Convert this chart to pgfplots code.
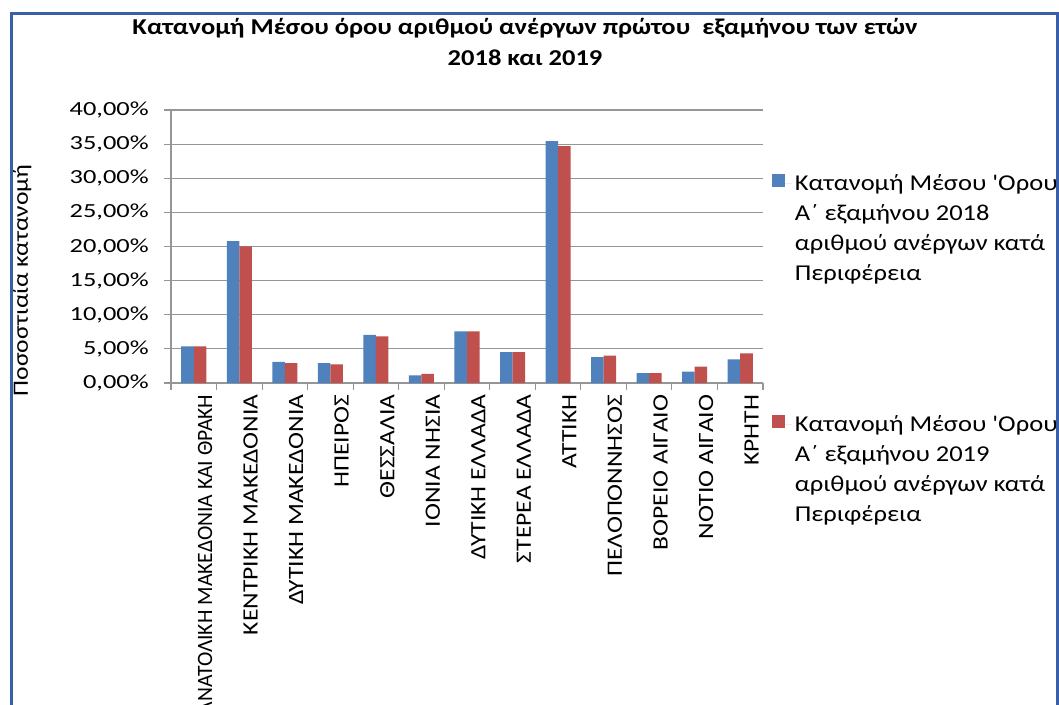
\documentclass[border=0pt]{standalone}
\usepackage{fontspec}
\usepackage{graphicx}
\setmainfont{Carlito}[FakeStretch=1.17]
\newfontfamily\tickfont{Carlito}[FakeStretch=1.32]
\newfontfamily\legfont{Carlito}[FakeStretch=1.17]
\usepackage{pgfplots}
\pgfplotsset{compat=1.18}
\definecolor{frameblue}{RGB}{58,95,170}
\definecolor{bblue}{RGB}{79,129,189}
\definecolor{bred}{RGB}{192,80,77}
\definecolor{gridgray}{RGB}{150,150,150}
\begin{document}
\begin{tikzpicture}
\path[use as bounding box, clip] (0,0) rectangle (794.25pt,528pt);
\fill[white] (0,0) rectangle (794.25pt,528pt);
\begin{axis}[
  at={(128.25pt,240.75pt)}, anchor=south west,
  scale only axis, width=444pt, height=204.75pt,
  xmin=-0.5, xmax=12.5, ymin=0, ymax=40,
  axis x line=bottom, axis y line=left,
  axis line style={gridgray, -, line width=0.8pt},
  ybar=0pt, bar width=9.4pt,
  xtick={0,...,12},
  xticklabels={\scalebox{0.845}[1]{ΑΝΑΤΟΛΙΚΗ ΜΑΚΕΔΟΝΙΑ ΚΑΙ ΘΡΑΚΗ}, ΚΕΝΤΡΙΚΗ ΜΑΚΕΔΟΝΙΑ, ΔΥΤΙΚΗ ΜΑΚΕΔΟΝΙΑ, ΗΠΕΙΡΟΣ, ΘΕΣΣΑΛΙΑ, ΙΟΝΙΑ ΝΗΣΙΑ, ΔΥΤΙΚΗ ΕΛΛΑΔΑ, ΣΤΕΡΕΑ ΕΛΛΑΔΑ, ΑΤΤΙΚΗ, ΠΕΛΟΠΟΝΝΗΣΟΣ, ΒΟΡΕΙΟ ΑΙΓΑΙΟ, ΝΟΤΙΟ ΑΙΓΑΙΟ, ΚΡΗΤΗ},
  minor xtick={-0.5,0.5,...,12.5},
  major x tick style={draw=none},
  tick align=outside, major tick length=5.25pt, minor tick length=5.25pt,
  tick style={gridgray, line width=0.8pt},
  ytick={0,5,...,40},
  ymajorgrids, grid style={gridgray, line width=0.8pt},
  /pgf/number format/assume math mode=true,
  yticklabel={\pgfmathprintnumber[fixed,fixed zerofill,precision=2,use comma]{\tick}\%},
  yticklabel style={font=\tickfont\fontsize{15}{15}\selectfont, xshift=-8pt},
  xticklabel style={rotate=90, anchor=east, font=\fontsize{16.4}{16.4}\selectfont, yshift=-8.5pt},
  title={Κατανομή Μέσου όρου αριθμού ανέργων πρώτου \ εξαμήνου των ετών\\2018 και 2019},
  title style={font=\bfseries\fontsize{17}{23}\selectfont, align=center, at={(axis description cs:0.598,1.22)}, anchor=center},
  ylabel={Ποσοστιαία κατανομή},
  ylabel style={font=\fontsize{16.4}{16.4}\selectfont, at={(axis description cs:-0.252,0.376)}, anchor=center},
  legend style={at={(axis description cs:1.015,0.774)}, anchor=north west, draw=none, fill=none,
    font=\legfont\fontsize{17}{22.5}\selectfont, row sep=163pt, inner sep=0pt},
  legend cell align=left,
  legend image code/.code={\fill[#1] (0pt,-2.6pt) rectangle (9.75pt,7.15pt); \path (0pt,0pt) -- (15pt,0pt);},
]
\addplot[fill=bblue, draw=none] coordinates {
(0,5.37) (1,20.77) (2,3.08) (3,2.93) (4,7.04) (5,1.12) (6,7.57) (7,4.54) (8,35.43) (9,3.81) (10,1.46) (11,1.66) (12,3.46)};
\addlegendentry{\parbox[t]{300pt}{Κατανομή Μέσου 'Ορου\\Α΄ εξαμήνου 2018\\αριθμού ανέργων κατά\\Περιφέρεια}}
\addplot[fill=bred, draw=none] coordinates {
(0,5.37) (1,20.03) (2,2.93) (3,2.74) (4,6.84) (5,1.32) (6,7.57) (7,4.54) (8,34.70) (9,4.00) (10,1.46) (11,2.39) (12,4.34)};
\addlegendentry{\parbox[t]{300pt}{Κατανομή Μέσου 'Ορου\\Α΄ εξαμήνου 2019\\αριθμού ανέργων κατά\\Περιφέρεια}}
\end{axis}
\draw[frameblue, line width=2.4pt] (8.6pt,-5pt) -- (8.6pt,517.9pt) -- (793.1pt,517.9pt) -- (793.1pt,-5pt);
\end{tikzpicture}
\end{document}
